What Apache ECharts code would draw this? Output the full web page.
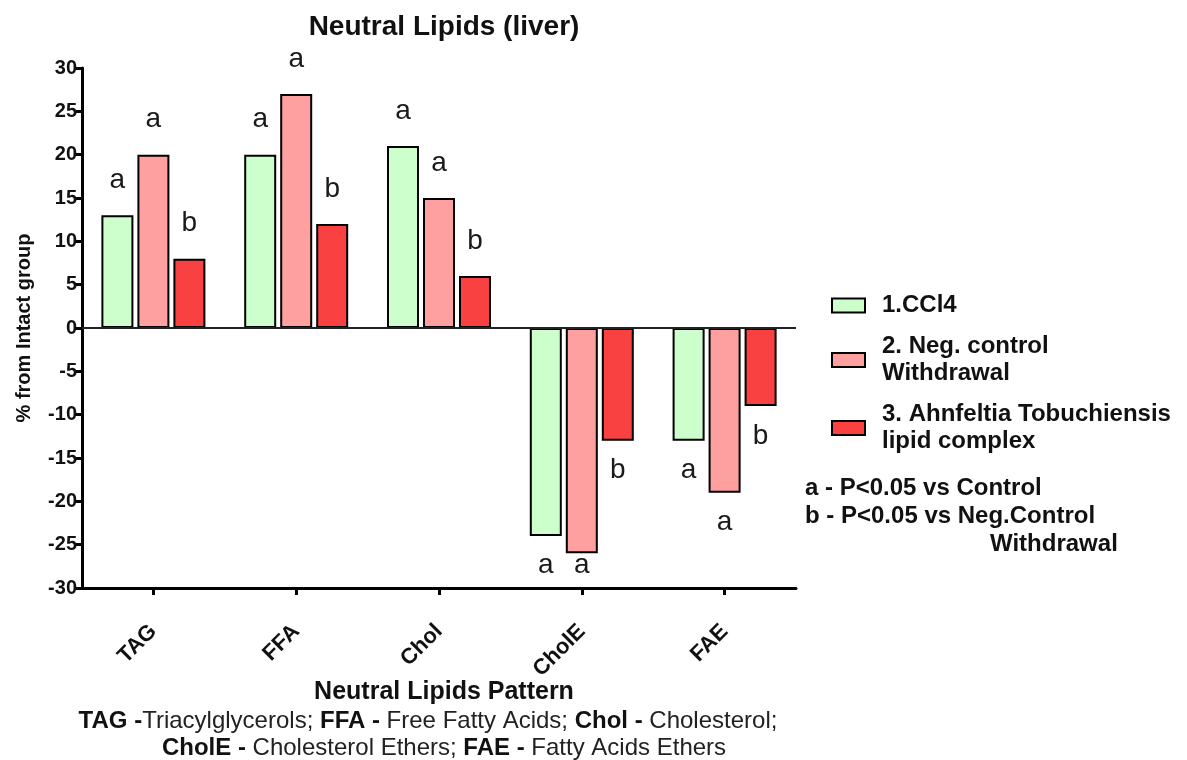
<!DOCTYPE html>
<html>
<head>
<meta charset="utf-8">
<script src="https://cdn.jsdelivr.net/npm/echarts@6/dist/echarts.min.js"></script>
<style>html,body{margin:0;padding:0;background:#fff;}#main{width:1187px;height:760px;}</style>
</head>
<body>
<div id="main"></div>
<script>
// ---- data ----
const categories = ['TAG', 'FFA', 'Chol', 'CholE', 'FAE'];
const seriesNames = ['1.CCl4', '2. Neg. control\nWithdrawal', '3. Ahnfeltia Tobuchiensis\nlipid complex'];
const ccl4 = [13, 20, 21, -24, -13];
const negControl = [20, 27, 15, -26, -19];
const ahnfeltia = [8, 12, 6, -13, -9];
const ccl4Sig = ['a', 'a', 'a', 'a', 'a'];
const negControlSig = ['a', 'a', 'a', 'a', 'a'];
const ahnfeltiaSig = ['b', 'b', 'b', 'b', 'b'];
const yMin = -30, yMax = 30, yStep = 5;
const chartTitle = 'Neutral Lipids (liver)';
const yName = '% from Intact group';
const xName = 'Neutral Lipids Pattern';
const noteLines = ['a - P<0.05 vs Control', 'b - P<0.05 vs Neg.Control', 'Withdrawal'];

// ---- styles ----
const FONT = '"Liberation Sans", Arial, Helvetica, sans-serif';
const colors = ['#CCFFCC', '#FFA0A0', '#F94141'];
const gridTop = 68, gridBottomPx = 588, gridLeft = 82, gridRight = 796;
const pxPerUnit = (gridBottomPx - gridTop) / (yMax - yMin);

function buildData(values, sigs) {
  return values.map((v, i) => {
    let pos = v >= 0 ? 'top' : 'bottom';
    let dist = 20;
    if (v < 0) {
      const avail = (v - yMin) * pxPerUnit;
      dist = Math.min(15, avail - 38);
    }
    return { value: v, sig: sigs[i], label: { position: pos, distance: dist } };
  });
}

const valueSets = [ccl4, negControl, ahnfeltia];
const sigSets = [ccl4Sig, negControlSig, ahnfeltiaSig];

const series = valueSets.map((vals, k) => ({
  name: seriesNames[k],
  type: 'bar',
  barWidth: 32,
  barGap: '12.5%',
  data: buildData(vals, sigSets[k]),
  itemStyle: { color: colors[k], borderColor: '#000', borderWidth: 2 },
  label: {
    show: true,
    formatter: p => p.data.sig,
    fontSize: 28,
    lineHeight: 30,
    color: '#1a1a1a',
    fontFamily: FONT
  },
  emphasis: { disabled: true },
  markLine: k === 0 ? {
    silent: true, symbol: 'none', label: { show: false },
    lineStyle: { color: '#222', width: 2, type: 'solid' },
    data: [{ yAxis: 0 }]
  } : undefined,
  z: 3
}));

const richStyles = {
  b: { fontSize: 24, fontWeight: 'bold', color: '#111', fontFamily: FONT },
  r: { fontSize: 24, fontWeight: 'normal', color: '#222', fontFamily: FONT }
};

const chart = echarts.init(document.getElementById('main'));
chart.setOption({
  animation: false,
  backgroundColor: '#fff',
  textStyle: { fontFamily: FONT },
  title: [
    { text: chartTitle, left: (gridLeft + gridRight) / 2, textAlign: 'center', top: 8,
      textStyle: { fontSize: 28, fontWeight: 'bold', color: '#111', fontFamily: FONT } },
    { text: xName, left: 439, textAlign: 'center', top: 675,
      textStyle: { fontSize: 25, fontWeight: 'bold', color: '#111', fontFamily: FONT } },
    { text: '{b|TAG -}{r|Triacylglycerols; }{b|FFA - }{r|Free Fatty Acids; }{b|Chol - }{r|Cholesterol;}',
      left: 423, textAlign: 'center', top: 704,
      textStyle: { fontWeight: 'normal', rich: richStyles } },
    { text: '{b|CholE - }{r|Cholesterol Ethers; }{b|FAE - }{r|Fatty Acids Ethers}',
      left: 439, textAlign: 'center', top: 731,
      textStyle: { fontWeight: 'normal', rich: richStyles } }
  ],
  legend: {
    orient: 'vertical', left: 826, top: 287,
    itemWidth: 33, itemHeight: 14, itemGap: 14,
    icon: 'rect',
    selectedMode: false,
    textStyle: { fontSize: 24, fontWeight: 'bold', lineHeight: 27, color: '#111',
      fontFamily: FONT, padding: [0, 0, 0, 12] },
    data: seriesNames
  },
  grid: { left: gridLeft, right: 1187 - gridRight, top: gridTop, bottom: 760 - gridBottomPx, containLabel: false },
  xAxis: {
    type: 'category', data: categories,
    axisLine: { onZero: false, lineStyle: { color: '#000', width: 3 } },
    axisTick: { show: true, alignWithLabel: true, length: 7, lineStyle: { color: '#000', width: 3 } },
    axisLabel: { rotate: 45, fontSize: 22, fontWeight: 'bold', color: '#111', margin: 40, interval: 0, fontFamily: FONT }
  },
  yAxis: {
    type: 'value', min: yMin, max: yMax, interval: yStep,
    axisLine: { show: true, lineStyle: { color: '#000', width: 3 } },
    axisTick: { show: true, length: 6, lineStyle: { color: '#000', width: 3 } },
    splitLine: { show: false },
    axisLabel: { fontSize: 20, fontWeight: 'bold', color: '#111', margin: 5, fontFamily: FONT },
    name: yName, nameLocation: 'middle', nameRotate: 90, nameGap: 48,
    nameTextStyle: { fontSize: 20, fontWeight: 'bold', color: '#111', fontFamily: FONT }
  },
  graphic: [
    { type: 'text', left: 805, top: 476, style: { text: noteLines[0], fill: '#111', font: 'bold 24px ' + FONT } },
    { type: 'text', left: 805, top: 504, style: { text: noteLines[1], fill: '#111', font: 'bold 24px ' + FONT } },
    { type: 'text', left: 990, top: 532, style: { text: noteLines[2], fill: '#111', font: 'bold 24px ' + FONT } }
  ],
  series: series
});
</script>
</body>
</html>
